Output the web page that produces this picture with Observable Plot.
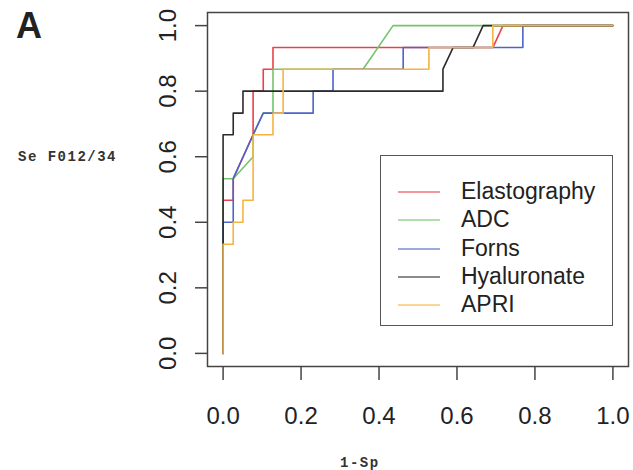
<!DOCTYPE html>
<html>
<head>
<meta charset="utf-8">
<script src="https://cdn.jsdelivr.net/npm/d3@7"></script>
<script src="https://cdn.jsdelivr.net/npm/@observablehq/plot@0.6"></script>
<style>
  html, body { margin: 0; padding: 0; background: #fff; }
  #wrap { position: relative; width: 633px; height: 470px; overflow: hidden; font-family: "Liberation Sans", Arial, sans-serif; }
  #chart { position: absolute; left: 0; top: 0; }
  .lab { position: absolute; color: #222; white-space: nowrap; }
  #legend { position: absolute; left: 380px; top: 155px; width: 233px; height: 171px; border: 1.5px solid #555; box-sizing: border-box; background: #fff; }
  .row { position: absolute; left: 0; height: 28px; }
  .row .sw { position: absolute; left: 17px; width: 42px; height: 0; border-top: 2px solid; top: 14px; opacity: 0.55; }
  .row .tx { position: absolute; left: 80px; top: 0; font-size: 23px; line-height: 28px; color: #222; }
</style>
</head>
<body>
<div id="wrap">
  <div id="chart"></div>
  <div class="lab" style="left:16px; top:5px; font-size:36px; font-weight:bold; font-family:'Liberation Sans',Arial,sans-serif;">A</div>
  <div class="lab" style="left:18px; top:149px; font-size:14px; font-weight:bold; letter-spacing:1.5px; font-family:'Liberation Mono','DejaVu Sans Mono',monospace; color:#333;">Se F012/34</div>
  <div class="lab" style="left:340px; top:455px; font-size:14px; font-weight:bold; letter-spacing:1.5px; font-family:'Liberation Mono','DejaVu Sans Mono',monospace; color:#333;">1-Sp</div>
  <div id="legend"></div>
</div>
<script>
// Series names and colours
const seriesNames = ["Elastography", "ADC", "Forns", "Hyaluronate", "APRI"];
const seriesColors = ["#e8434a", "#72c66a", "#4c63c9", "#2b2b2b", "#f5b43f"];

// ROC vertices (1-Sp, Se)
const elastoFpr = [0, 0, 0.026, 0.026, 0.077, 0.077, 0.103, 0.103, 0.128, 0.128, 0.692, 0.718, 1];
const elastoTpr = [0, 0.467, 0.467, 0.533, 0.667, 0.8, 0.8, 0.867, 0.867, 0.933, 0.933, 1, 1];

const adcFpr = [0, 0, 0.026, 0.077, 0.077, 0.103, 0.128, 0.128, 0.359, 0.436, 1];
const adcTpr = [0, 0.533, 0.533, 0.6, 0.667, 0.733, 0.733, 0.867, 0.867, 1, 1];

const fornsFpr = [0, 0, 0.026, 0.026, 0.077, 0.103, 0.231, 0.231, 0.282, 0.282, 0.462, 0.462, 0.769, 0.769, 1];
const fornsTpr = [0, 0.4, 0.4, 0.533, 0.667, 0.733, 0.733, 0.8, 0.8, 0.867, 0.867, 0.933, 0.933, 1, 1];

const hyalFpr = [0, 0, 0.026, 0.026, 0.051, 0.051, 0.564, 0.564, 0.590, 0.641, 0.667, 1];
const hyalTpr = [0, 0.667, 0.667, 0.733, 0.733, 0.8, 0.8, 0.867, 0.933, 0.933, 1, 1];

const apriFpr = [0, 0, 0.026, 0.026, 0.051, 0.051, 0.077, 0.077, 0.128, 0.128, 0.154, 0.154, 0.528, 0.528, 0.692, 0.692, 1];
const apriTpr = [0, 0.333, 0.333, 0.4, 0.4, 0.467, 0.467, 0.667, 0.667, 0.733, 0.733, 0.867, 0.867, 0.933, 0.933, 1, 1];

const tickValues = [0, 0.2, 0.4, 0.6, 0.8, 1.0];

const seriesFpr = [elastoFpr, adcFpr, fornsFpr, hyalFpr, apriFpr];
const seriesTpr = [elastoTpr, adcTpr, fornsTpr, hyalTpr, apriTpr];

const rows = [];
seriesNames.forEach((name, i) => {
  seriesFpr[i].forEach((x, j) => rows.push({series: name, x, y: seriesTpr[i][j]}));
});

const fmt = d3.format(".1f");

const chart = Plot.plot({
  width: 633,
  height: 470,
  marginLeft: 207,
  marginRight: 5,
  marginTop: 12,
  marginBottom: 104,
  style: {fontFamily: "'Liberation Sans', Arial, sans-serif", color: "#222", background: "#fff"},
  x: {domain: [-0.04, 1.04]},
  y: {domain: [-0.04, 1.04]},
  color: {domain: seriesNames, range: seriesColors},
  marks: [
    Plot.frame({stroke: "#444", strokeWidth: 1.5}),
    Plot.line(rows, {x: "x", y: "y", z: "series", stroke: "series", strokeWidth: 1.6, curve: "linear"}),
    Plot.axisX({ticks: tickValues, tickSize: 14, tickPadding: 26, tickFormat: fmt, fontSize: 24, stroke: "#444", strokeWidth: 1.5, label: null}),
    Plot.axisY({ticks: tickValues, tickSize: 12, tickFormat: null, text: null, stroke: "#444", strokeWidth: 1.5, label: null}),
    Plot.text(tickValues, {y: d => d, text: d => fmt(d), frameAnchor: "left", textAnchor: "middle", dx: -39, rotate: -90, fontSize: 24, fill: "#222"})
  ]
});
document.getElementById("chart").appendChild(chart);

// Legend
const legend = document.getElementById("legend");
seriesNames.forEach((name, i) => {
  const row = document.createElement("div");
  row.className = "row";
  row.style.top = (21 + i * 28.3) + "px";
  row.style.width = "100%";
  const sw = document.createElement("div");
  sw.className = "sw";
  sw.style.borderColor = seriesColors[i];
  const tx = document.createElement("div");
  tx.className = "tx";
  tx.textContent = name;
  row.appendChild(sw);
  row.appendChild(tx);
  legend.appendChild(row);
});
</script>
</body>
</html>
